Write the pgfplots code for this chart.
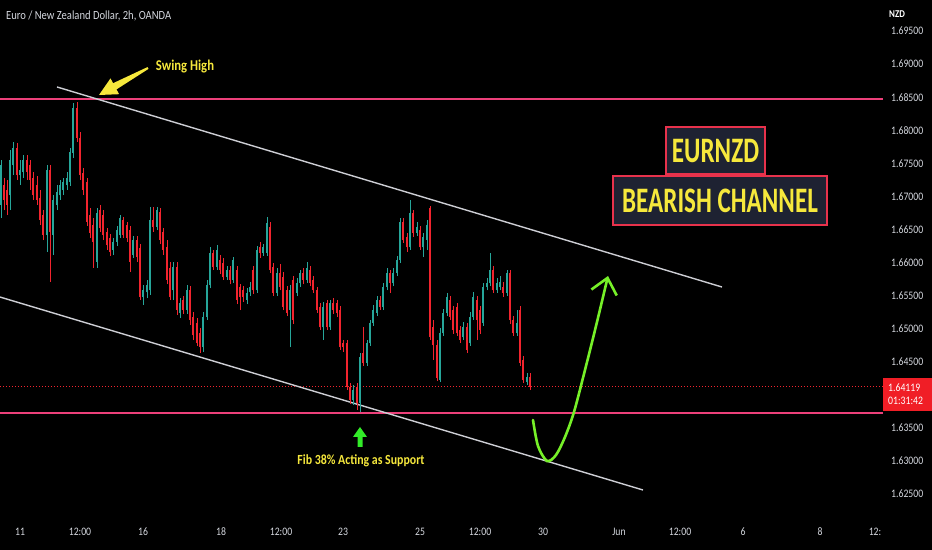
\documentclass[border=0pt]{standalone}
\usepackage{fontspec}
\setmainfont{Carlito}[FakeStretch=0.85]
\newfontfamily\boxfont{Carlito}[FakeStretch=0.7]
\usepackage{pgfplots}
\usepackage{pgfplotstable}
\pgfplotsset{compat=1.18}
\usetikzlibrary{arrows.meta}

\definecolor{bull}{RGB}{38,166,154}
\definecolor{bear}{RGB}{242,36,46}
\definecolor{txt}{RGB}{212,215,222}
\definecolor{chan}{RGB}{205,206,212}
\definecolor{lvl}{RGB}{236,64,122}
\definecolor{ylw}{RGB}{246,232,60}
\definecolor{curvegreen}{RGB}{118,240,40}
\definecolor{fibgreen}{RGB}{50,235,40}
\definecolor{boxbg}{RGB}{30,34,50}
\definecolor{boxln}{RGB}{232,50,76}
\definecolor{tag}{RGB}{240,30,38}

% 2h candles, x = position on the chart, o h l c = prices
\pgfplotstableread{
x o h l c
1 1.6687 1.6755 1.6667 1.6747
10 1.6702 1.6770 1.6679 1.6755
13 1.6747 1.6782 1.6732 1.6773
20 1.6732 1.6755 1.6717 1.6740
23 1.6737 1.6763 1.6728 1.6755
47 1.6642 1.6747 1.6616 1.6740
53 1.6642 1.6702 1.6611 1.6695
57 1.6687 1.6717 1.6679 1.6707
60 1.6702 1.6725 1.6695 1.6717
63 1.6710 1.6728 1.6702 1.6722
67 1.6717 1.6737 1.6710 1.6728
70 1.6722 1.6773 1.6716 1.6767
73 1.6766 1.6841 1.6758 1.6834
97 1.6601 1.6682 1.6592 1.6675
113 1.6619 1.6637 1.6611 1.6631
117 1.6631 1.6655 1.6625 1.6649
120 1.6642 1.6672 1.6637 1.6667
133 1.6611 1.6640 1.6607 1.6634
143 1.6548 1.6566 1.6536 1.6558
147 1.6555 1.6574 1.6546 1.6566
150 1.6558 1.6684 1.6551 1.6664
157 1.6654 1.6684 1.6649 1.6679
173 1.6558 1.6601 1.6543 1.6593
180 1.6524 1.6546 1.6516 1.6539
187 1.6528 1.6566 1.6522 1.6558
203 1.6472 1.6525 1.6465 1.6518
207 1.6518 1.6574 1.6513 1.6566
210 1.6566 1.6623 1.6561 1.6614
217 1.6593 1.6626 1.6589 1.6619
227 1.6578 1.6595 1.6574 1.6589
233 1.6574 1.6608 1.6569 1.6604
247 1.6543 1.6561 1.6537 1.6554
250 1.6555 1.6571 1.6549 1.6563
257 1.6558 1.6625 1.6554 1.6619
263 1.6614 1.6628 1.6610 1.6623
267 1.6614 1.6669 1.6610 1.6660
277 1.6554 1.6592 1.6549 1.6584
290 1.6528 1.6566 1.6472 1.6558
297 1.6554 1.6577 1.6549 1.6569
300 1.6569 1.6589 1.6563 1.6584
307 1.6574 1.6601 1.6569 1.6592
323 1.6502 1.6540 1.6483 1.6533
330 1.6502 1.6543 1.6498 1.6539
353 1.6392 1.6415 1.6385 1.6407
360 1.6388 1.6463 1.6374 1.6457
367 1.6448 1.6483 1.6444 1.6478
370 1.6478 1.6513 1.6474 1.6509
373 1.6509 1.6536 1.6504 1.6528
377 1.6524 1.6549 1.6519 1.6543
383 1.6533 1.6569 1.6528 1.6563
387 1.6563 1.6592 1.6558 1.6584
393 1.6569 1.6592 1.6564 1.6584
397 1.6584 1.6610 1.6580 1.6604
400 1.6604 1.6667 1.6599 1.6661
410 1.6623 1.6695 1.6619 1.6675
417 1.6645 1.6661 1.6640 1.6654
423 1.6623 1.6645 1.6608 1.6639
427 1.6634 1.6664 1.6619 1.6657
440 1.6422 1.6501 1.6419 1.6493
443 1.6493 1.6530 1.6489 1.6524
447 1.6524 1.6554 1.6519 1.6548
463 1.6487 1.6510 1.6483 1.6502
470 1.6478 1.6525 1.6474 1.6518
473 1.6518 1.6555 1.6513 1.6548
483 1.6509 1.6569 1.6504 1.6563
487 1.6563 1.6577 1.6558 1.6569
490 1.6569 1.6614 1.6564 1.6589
497 1.6558 1.6577 1.6554 1.6569
500 1.6563 1.6580 1.6558 1.6571
507 1.6554 1.6589 1.6549 1.6584
517 1.6493 1.6528 1.6489 1.6509
527 1.6419 1.6433 1.6415 1.6427
}\upT

\pgfplotstableread{
x o h l c
4 1.6717 1.6728 1.6679 1.6695
7 1.6710 1.6725 1.6672 1.6687
17 1.6773 1.6781 1.6725 1.6732
27 1.6755 1.6763 1.6725 1.6737
30 1.6747 1.6755 1.6710 1.6725
33 1.6728 1.6737 1.6695 1.6702
37 1.6717 1.6731 1.6687 1.6695
40 1.6698 1.6710 1.6657 1.6664
43 1.6672 1.6679 1.6634 1.6642
50 1.6740 1.6747 1.6571 1.6646
77 1.6834 1.6843 1.6782 1.6788
80 1.6788 1.6797 1.6725 1.6732
83 1.6735 1.6743 1.6702 1.6710
87 1.6722 1.6728 1.6655 1.6661
90 1.6672 1.6682 1.6637 1.6645
93 1.6657 1.6667 1.6592 1.6631
100 1.6679 1.6687 1.6646 1.6652
103 1.6672 1.6679 1.6634 1.6642
107 1.6646 1.6652 1.6619 1.6626
110 1.6637 1.6643 1.6610 1.6616
123 1.6664 1.6669 1.6637 1.6642
127 1.6657 1.6661 1.6631 1.6637
130 1.6649 1.6655 1.6586 1.6601
137 1.6634 1.6640 1.6601 1.6608
140 1.6622 1.6628 1.6543 1.6548
153 1.6664 1.6684 1.6646 1.6654
160 1.6676 1.6682 1.6628 1.6634
163 1.6646 1.6652 1.6611 1.6619
167 1.6623 1.6634 1.6567 1.6574
170 1.6592 1.6601 1.6543 1.6548
177 1.6593 1.6601 1.6521 1.6528
183 1.6543 1.6549 1.6522 1.6528
190 1.6558 1.6564 1.6506 1.6513
193 1.6518 1.6525 1.6483 1.6490
197 1.6509 1.6516 1.6474 1.6478
200 1.6493 1.6501 1.6463 1.6472
213 1.6614 1.6619 1.6589 1.6593
220 1.6604 1.6611 1.6583 1.6589
223 1.6599 1.6607 1.6574 1.6578
230 1.6589 1.6595 1.6567 1.6574
237 1.6589 1.6595 1.6537 1.6543
240 1.6563 1.6567 1.6528 1.6548
243 1.6558 1.6564 1.6540 1.6548
253 1.6589 1.6595 1.6552 1.6558
260 1.6623 1.6631 1.6607 1.6614
270 1.6654 1.6661 1.6584 1.6589
273 1.6593 1.6599 1.6549 1.6554
280 1.6584 1.6598 1.6558 1.6563
283 1.6578 1.6586 1.6528 1.6533
287 1.6558 1.6564 1.6519 1.6524
293 1.6574 1.6580 1.6507 1.6513
303 1.6584 1.6592 1.6567 1.6574
310 1.6589 1.6595 1.6564 1.6569
313 1.6574 1.6580 1.6554 1.6558
317 1.6558 1.6563 1.6524 1.6528
320 1.6533 1.6539 1.6498 1.6502
327 1.6539 1.6543 1.6498 1.6502
333 1.6539 1.6546 1.6522 1.6528
337 1.6539 1.6543 1.6518 1.6524
340 1.6528 1.6534 1.6468 1.6472
343 1.6478 1.6483 1.6465 1.6472
347 1.6478 1.6483 1.6407 1.6412
350 1.6412 1.6418 1.6386 1.6392
357 1.6412 1.6418 1.6377 1.6388
363 1.6463 1.6502 1.6444 1.6448
380 1.6543 1.6549 1.6528 1.6533
390 1.6584 1.6589 1.6554 1.6569
403 1.6661 1.6667 1.6630 1.6634
407 1.6639 1.6645 1.6616 1.6623
413 1.6675 1.6679 1.6639 1.6645
420 1.6649 1.6655 1.6619 1.6623
430 1.6682 1.6685 1.6483 1.6487
433 1.6502 1.6513 1.6453 1.6475
437 1.6475 1.6483 1.6421 1.6425
450 1.6543 1.6549 1.6513 1.6518
453 1.6528 1.6534 1.6492 1.6498
457 1.6533 1.6539 1.6489 1.6493
460 1.6498 1.6504 1.6478 1.6483
467 1.6502 1.6509 1.6463 1.6468
477 1.6543 1.6549 1.6483 1.6513
480 1.6528 1.6534 1.6492 1.6498
493 1.6589 1.6595 1.6554 1.6558
503 1.6563 1.6571 1.6548 1.6554
510 1.6584 1.6589 1.6507 1.6513
513 1.6513 1.6519 1.6489 1.6493
520 1.6528 1.6534 1.6444 1.6448
523 1.6453 1.6459 1.6418 1.6422
530 1.6427 1.6433 1.6407 1.6412
}\dnT

\begin{document}
\begin{tikzpicture}
\path[use as bounding box, fill=black] (0,0) rectangle (932bp,550bp);
\begin{axis}[
    at={(0,0)}, anchor=south west,
    width=932bp, height=550bp, scale only axis,
    xmin=0, xmax=932, ymin=1.61653, ymax=1.69969,
    axis line style={draw=none},
    tick style={draw=none}, major tick length=0pt,
    clip=false,
    xtick={20,80,143,221,281,343,420,480,543,619,680,743,820,875},
    xticklabels={11,12:00,16,18,12:00,23,25,12:00,30,Jun,12:00,6,8,12:},
    xticklabel style={anchor=center, inner sep=0pt, yshift=18bp,
        font=\fontsize{11.5}{12}\selectfont, text=txt},
    ytick={1.625,1.63,1.635,1.645,1.65,1.655,1.66,1.665,1.67,1.675,1.68,1.685,1.69,1.695},
    yticklabel pos=right,
    yticklabel style={anchor=west, inner sep=0pt, xshift=-41bp,
        font=\fontsize{11.5}{12}\selectfont, text=txt,
        /pgf/number format/.cd, fixed, fixed zerofill, precision=5, assume math mode=true},
]

% key levels and the price line
\addplot[lvl, line width=1.1bp] coordinates {(0,1.68472) (883,1.68472)};
\addplot[lvl, line width=1.1bp] coordinates {(0,1.63725) (883,1.63725)};
\addplot[bear, line width=0.9bp, dash pattern=on 1.2bp off 1.8bp] coordinates {(0,1.64119) (883,1.64119)};

% channel
\addplot[chan, line width=1.4bp] coordinates {(57,1.68654) (722,1.65629)};
\addplot[chan, line width=1.4bp] coordinates {(0,1.65478) (643,1.62560)};

% wicks
\addplot[draw=none, mark=none, forget plot, error bars/.cd, y dir=plus, y explicit,
    error mark=none, error bar style={draw=bull, line width=0.9bp}]
    table[x=x, y=l, y error plus expr=\thisrow{h}-\thisrow{l}] {\upT};
\addplot[draw=none, mark=none, forget plot, error bars/.cd, y dir=plus, y explicit,
    error mark=none, error bar style={draw=bear, line width=0.9bp}]
    table[x=x, y=l, y error plus expr=\thisrow{h}-\thisrow{l}] {\dnT};
% bodies
\addplot[draw=none, mark=none, forget plot, error bars/.cd, y dir=plus, y explicit,
    error mark=none, error bar style={draw=bull, line width=2.4bp}]
    table[x=x, y=o, y error plus expr=\thisrow{c}-\thisrow{o}] {\upT};
\addplot[draw=none, mark=none, forget plot, error bars/.cd, y dir=plus, y explicit,
    error mark=none, error bar style={draw=bear, line width=2.4bp}]
    table[x=x, y=c, y error plus expr=\thisrow{o}-\thisrow{c}] {\dnT};
\end{axis}

% annotations, in pixel positions from the top left
\begin{scope}[shift={(0,550bp)}, x=1bp, y=-1bp]
\node[anchor=west, inner sep=0pt, text=txt, font=\fontsize{12.5}{13}\selectfont]
    at (6,16) {Euro / New Zealand Dollar, 2h, OANDA};
\node[inner sep=0pt, text=white, font=\fontsize{10.5}{11}\selectfont\bfseries] at (897,14) {NZD};

\node[inner sep=0pt, text=ylw, font=\fontsize{15}{16}\selectfont\bfseries] at (185,67) {Swing High};
\fill[ylw] (147.5,67.1) -- (113.1,83.2) -- (110.5,78.4) -- (99,95) -- (119.1,94.2)
    -- (116.5,89.4) -- (148.5,68.9) -- cycle;

\fill[fibgreen] (360,427) -- (367,437) -- (362.5,437) -- (362.5,447) -- (357.5,447)
    -- (357.5,437) -- (353,437) -- cycle;
\node[inner sep=0pt, text=ylw, font=\fontsize{14}{15}\selectfont\bfseries] at (361,461)
    {Fib 38\% Acting as Support};

\draw[curvegreen, line width=2.6bp, line cap=round,
    -{Straight Barb[length=15bp, width=26bp, line width=2.6bp]}]
    plot[smooth] coordinates {(533,420) (538,446) (547,461) (556,455) (565,437)
        (574,412) (585,370) (597,322) (608,276)};

\draw[boxln, line width=2.4bp, fill=boxbg] (666,127) rectangle (765,174);
\draw[boxln, line width=2.4bp, fill=boxbg] (613,176) rectangle (827,225);
\node[inner sep=0pt, text=ylw, font=\boxfont\fontsize{36}{38}\selectfont\bfseries]
    at (715.5,151) {EURNZD};
\node[inner sep=0pt, text=ylw, font=\boxfont\fontsize{36}{38}\selectfont\bfseries]
    at (720,201) {BEARISH CHANNEL};

\fill[tag] (883,378) rectangle (932,411);
\node[anchor=west, inner sep=0pt, text=white, font=\fontsize{11.5}{12}\selectfont]
    at (888,388) {1.64119};
\node[anchor=west, inner sep=0pt, text=white, font=\fontsize{11.5}{12}\selectfont]
    at (888,401) {01:31:42};
\end{scope}
\end{tikzpicture}
\end{document}
